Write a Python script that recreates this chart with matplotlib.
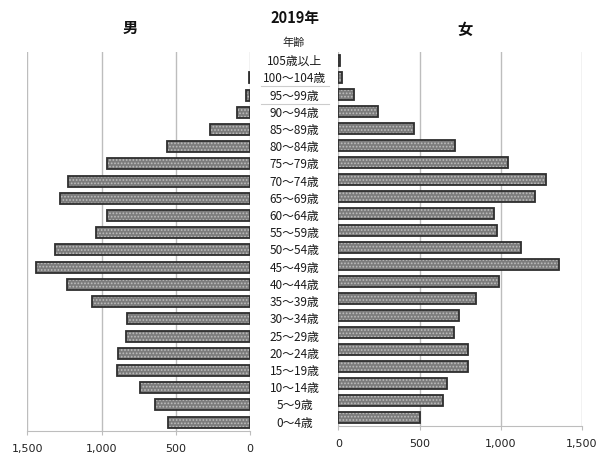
import matplotlib
matplotlib.use("Agg")
import matplotlib.pyplot as plt
import matplotlib.transforms as mtransforms

plt.rcParams['font.family'] = ['Noto Sans CJK JP', 'DejaVu Sans']
plt.rcParams['hatch.linewidth'] = 0.8

# 年齢区分（下から上へ）
age_groups = ["0～4歳", "5～9歳", "10～14歳", "15～19歳", "20～24歳", "25～29歳",
              "30～34歳", "35～39歳", "40～44歳", "45～49歳", "50～54歳", "55～59歳",
              "60～64歳", "65～69歳", "70～74歳", "75～79歳", "80～84歳", "85～89歳",
              "90～94歳", "95～99歳", "100～104歳", "105歳以上"]
male = [553, 640, 740, 895, 890, 835, 830, 1065, 1235, 1438, 1316, 1040,
        965, 1278, 1228, 960, 560, 270, 86, 26, 8, 0]
female = [505, 647, 671, 800, 796, 710, 741, 848, 988, 1357, 1123, 979,
          960, 1213, 1280, 1047, 720, 468, 243, 95, 25, 8]
x_ticks = [0, 500, 1000, 1500]
x_ticklabels = ["0", "500", "1,000", "1,500"]

fig = plt.figure(figsize=(6.01, 4.60), dpi=100)

ax_l = fig.add_axes([0.0454, 0.0615, 0.3706, 0.8233])
ax_r = fig.add_axes([0.5629, 0.0724, 0.4055, 0.8124])

pos = list(range(len(age_groups)))
for ax, vals in ((ax_l, male), (ax_r, female)):
    # 網掛けの塗り + 濃い枠線（値0の棒は枠なし）
    ax.barh(pos, vals, height=0.64, color='#7c7c7c', edgecolor='#bdbdbd',
            hatch='.....', linewidth=0, zorder=2)
    edge = ['#2e2e2e' if v > 0 else 'none' for v in vals]
    ax.barh(pos, vals, height=0.64, fill=False, edgecolor=edge,
            linewidth=1.3, zorder=3)
    ax.set_xlim(0, 1500)
    ax.set_ylim(-0.5, len(age_groups) - 0.5)
    ax.set_xticks(x_ticks)
    ax.set_xticklabels(x_ticklabels, fontsize=8, family='DejaVu Sans', color='#222222')
    ax.set_yticks([])
    ax.grid(axis='x', color='#bdbdbd', linewidth=1.0, zorder=0)
    for s in ('top', 'left', 'right'):
        ax.spines[s].set_visible(False)
    ax.spines['bottom'].set_color('#bdbdbd')
    ax.tick_params(axis='x', length=3, color='#bdbdbd', pad=6)

ax_l.invert_xaxis()

# 中央の年齢ラベル
trans = mtransforms.blended_transform_factory(fig.transFigure, ax_l.transData)
for i, lab in enumerate(age_groups):
    fig.text(0.49, i, lab, transform=trans, ha='center', va='center',
             fontsize=8.5, color='#1a1a1a')
for yy in (19.5, 18.5):
    ax_l.plot([0.435, 0.547], [yy, yy], transform=trans, color='#cccccc',
              linewidth=0.8, clip_on=False)

fig.text(0.488, 0.906, "年齢", ha='center', va='center', fontsize=8, color='#222222')
fig.text(0.49, 0.961, "2019年", ha='center', va='center', fontsize=10.5,
         fontweight='bold', color='#111111')
fig.text(0.217, 0.939, "男", ha='center', va='center', fontsize=11,
         fontweight='bold', color='#111111')
fig.text(0.774, 0.935, "女", ha='center', va='center', fontsize=11,
         fontweight='bold', color='#111111')

fig.savefig("out.png", dpi=100)
